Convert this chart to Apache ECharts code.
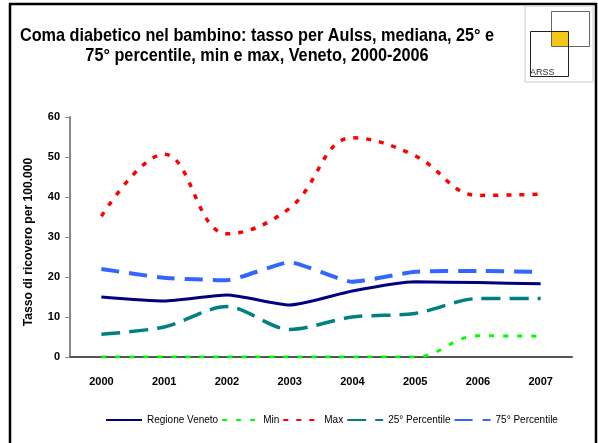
<!DOCTYPE html>
<html>
<head>
<meta charset="utf-8">
<script src="https://cdn.jsdelivr.net/npm/echarts@6/dist/echarts.min.js"></script>
<style>
  html, body { margin: 0; padding: 0; background: #fff; }
  #chart { width: 598px; height: 443px; }
</style>
</head>
<body>
<div id="chart"></div>
<script>
// dati
var anni = ['2000', '2001', '2002', '2003', '2004', '2005', '2006', '2007'];
var regioneVeneto = [15, 14, 15.5, 13, 16.5, 18.8, 18.6, 18.3];
var minimo = [0, 0, 0, 0, 0, 0, 5.3, 5.2];
var massimo = [35.2, 50.7, 30.8, 37.2, 54.8, 50.3, 40.4, 40.7];
var perc25 = [5.7, 7.5, 12.6, 6.9, 10, 10.9, 14.6, 14.6];
var perc75 = [22, 19.8, 19.2, 23.7, 18.8, 21.3, 21.5, 21.3];

var titolo1 = 'Coma diabetico nel bambino: tasso per Aulss, mediana, 25° e';
var titolo2 = '75° percentile, min e max, Veneto, 2000-2006';
var nomeAsseY = 'Tasso di ricovero per 100.000';

var font = "'Liberation Sans', Arial, sans-serif";

var chart = echarts.init(document.getElementById('chart'));

function serie(name, data, color, width, type, smooth) {
  return {
    name: name,
    type: 'line',
    data: data,
    symbol: 'none',
    smooth: smooth,
    lineStyle: { color: color, width: width, type: type, cap: 'butt' },
    itemStyle: { color: color },
    z: 3
  };
}

var titoloStile = { fontFamily: font, fontSize: 19, fontWeight: 'bold', fill: '#000', textAlign: 'center', textVerticalAlign: 'middle' };

chart.setOption({
  animation: false,
  grid: { left: 70, right: 26, top: 117, bottom: 86 },
  legend: {
    bottom: 13,
    left: 100,
    itemWidth: 36,
    itemHeight: 4,
    itemGap: 3,
    itemStyle: { opacity: 0 },
    textStyle: { fontFamily: font, fontSize: 10, color: '#000' },
    data: ['Regione Veneto', 'Min', 'Max', '25° Percentile', '75° Percentile']
  },
  xAxis: {
    type: 'category',
    data: anni,
    axisLine: { lineStyle: { color: '#555', width: 2 } },
    axisTick: { length: 5, lineStyle: { color: '#555', width: 1 } },
    axisLabel: { margin: 19, fontFamily: font, fontSize: 11, fontWeight: 'bold', color: '#000' }
  },
  yAxis: {
    type: 'value',
    min: 0,
    max: 60,
    interval: 10,
    splitLine: { show: false },
    axisLine: { show: true, lineStyle: { color: '#888', width: 2 } },
    axisTick: { show: true, length: 5, lineStyle: { color: '#888', width: 1 } },
    axisLabel: { margin: 10, fontFamily: font, fontSize: 11, fontWeight: 'bold', color: '#000' }
  },
  series: [
    serie('Regione Veneto', regioneVeneto, '#000080', 3, 'solid', 0.2),
    serie('Min', minimo, '#00ff00', 3, [5, 9], 0.4),
    serie('Max', massimo, '#ff0000', 3.5, [5, 8], 0.4),
    serie('25° Percentile', perc25, '#008080', 3.5, [19, 9], 0.3),
    serie('75° Percentile', perc75, '#3366ff', 4, [18, 10], 0.15)
  ],
  graphic: [
    { type: 'rect', shape: { x: 10, y: 4, width: 586, height: 460 }, style: { fill: null, stroke: '#000', lineWidth: 2.5 }, silent: true },
    // titolo (carattere stretto simulato con scaleX)
    { type: 'text', x: 257, y: 36, scaleX: 0.855, style: Object.assign({ text: titolo1 }, titoloStile) },
    { type: 'text', x: 257, y: 55.5, scaleX: 0.855, style: Object.assign({ text: titolo2 }, titoloStile) },
    // nome asse y
    { type: 'text', x: 28, y: 242, rotation: Math.PI / 2, scaleX: 0.93,
      style: { text: nomeAsseY, fontFamily: font, fontSize: 13, fontWeight: 'bold', fill: '#000', textAlign: 'center', textVerticalAlign: 'middle' } },
    // logo ARSS
    { type: 'rect', shape: { x: 525, y: 6, width: 68, height: 76 }, style: { fill: '#fff', stroke: '#ccc', lineWidth: 1 } },
    { type: 'rect', shape: { x: 552, y: 32, width: 16, height: 14 }, style: { fill: '#f5c518' } },
    { type: 'rect', shape: { x: 551.5, y: 11.5, width: 38, height: 35 }, style: { fill: null, stroke: '#666', lineWidth: 1 } },
    { type: 'rect', shape: { x: 530.5, y: 31.5, width: 38, height: 45 }, style: { fill: null, stroke: '#222', lineWidth: 1 } },
    { type: 'text', x: 530, y: 73, style: { text: 'ARSS', fontFamily: font, fontSize: 9, fill: '#333', textVerticalAlign: 'middle' } }
  ]
});
</script>
</body>
</html>
